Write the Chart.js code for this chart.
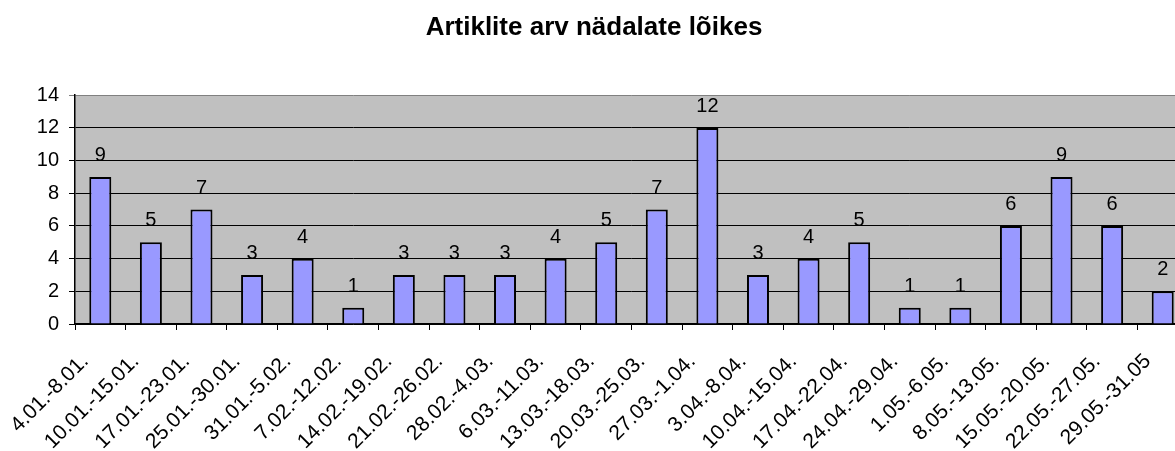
<!DOCTYPE html>
<html>
<head>
<meta charset="utf-8">
<script src="https://cdn.jsdelivr.net/npm/chart.js@4.4.1/dist/chart.umd.min.js"></script>
<style>
  html, body { margin: 0; padding: 0; background: #fff; overflow: hidden; }
  #wrap { width: 1202px; height: 451px; position: relative; }
</style>
</head>
<body>
<div id="wrap"><canvas id="c" width="1202" height="451"></canvas></div>
<script>
const chartTitle = 'Artiklite arv nädalate lõikes';
const categories = ['4.01.-8.01.', '10.01.-15.01.', '17.01.-23.01.', '25.01.-30.01.', '31.01.-5.02.', '7.02.-12.02.', '14.02.-19.02.', '21.02.-26.02.', '28.02.-4.03.', '6.03.-11.03.', '13.03.-18.03.', '20.03.-25.03.', '27.03.-1.04.', '3.04.-8.04.', '10.04.-15.04.', '17.04.-22.04.', '24.04.-29.04.', '1.05.-6.05.', '8.05.-13.05.', '15.05.-20.05.', '22.05.-27.05.', '29.05.-31.05'];
const articleCounts = [9, 5, 7, 3, 4, 1, 3, 3, 3, 4, 5, 7, 12, 3, 4, 5, 1, 1, 6, 9, 6, 2];
const yMin = 0, yMax = 14, yStep = 2;

const FONT = '"Liberation Sans", Arial, sans-serif';

const plotBg = {
  id: 'plotBg',
  beforeDraw(chart) {
    const { ctx, chartArea: a } = chart;
    ctx.save();
    ctx.fillStyle = '#C0C0C0';
    ctx.fillRect(a.left, a.top, a.right - a.left, a.bottom - a.top);
    ctx.restore();
  }
};

const valueLabels = {
  id: 'valueLabels',
  afterDatasetsDraw(chart) {
    const { ctx } = chart;
    const meta = chart.getDatasetMeta(0);
    ctx.save();
    ctx.font = '20px ' + FONT;
    ctx.fillStyle = '#000';
    ctx.textAlign = 'center';
    ctx.textBaseline = 'alphabetic';
    meta.data.forEach((bar, i) => {
      ctx.fillText(String(chart.data.datasets[0].data[i]), bar.x, bar.y - 16);
    });
    ctx.restore();
  }
};

new Chart(document.getElementById('c'), {
  type: 'bar',
  data: {
    labels: categories,
    datasets: [{
      data: articleCounts,
      backgroundColor: '#9999FF',
      borderColor: '#000000',
      borderWidth: 2,
      barPercentage: 0.435,
      categoryPercentage: 1.0
    }]
  },
  options: {
    responsive: false,
    animation: false,
    devicePixelRatio: 1,
    layout: { padding: { left: 0, right: 14, top: 0, bottom: 0 } },
    plugins: {
      legend: { display: false },
      tooltip: { enabled: false },
      title: {
        display: true,
        text: chartTitle,
        color: '#000',
        font: { family: FONT, size: 26, weight: 'bold', lineHeight: 1.2 },
        padding: { top: 12, bottom: 52 }
      }
    },
    scales: {
      x: {
        offset: true,
        grid: { offset: true, drawOnChartArea: false, drawTicks: true, tickLength: 6, color: '#000', lineWidth: 1 },
        border: { display: true, color: '#000', width: 1.5 },
        ticks: {
          color: '#000',
          font: { family: FONT, size: 21 },
          minRotation: 45,
          maxRotation: 45,
          autoSkip: false,
          padding: 19,
          labelOffset: -15
        },
        afterFit(scale) { scale.height = 127; }
      },
      y: {
        min: yMin,
        max: yMax,
        grid: {
          color: (c) => (c.tick && c.tick.value === yMax ? '#808080' : '#000'),
          lineWidth: 1,
          tickLength: 6,
          drawTicks: true
        },
        border: { display: true, color: '#000', width: 1.5 },
        ticks: {
          stepSize: yStep,
          color: '#000',
          font: { family: FONT, size: 20 },
          padding: 10
        },
        afterFit(scale) { scale.width = 75; }
      }
    }
  },
  plugins: [plotBg, valueLabels]
});
</script>
</body>
</html>
